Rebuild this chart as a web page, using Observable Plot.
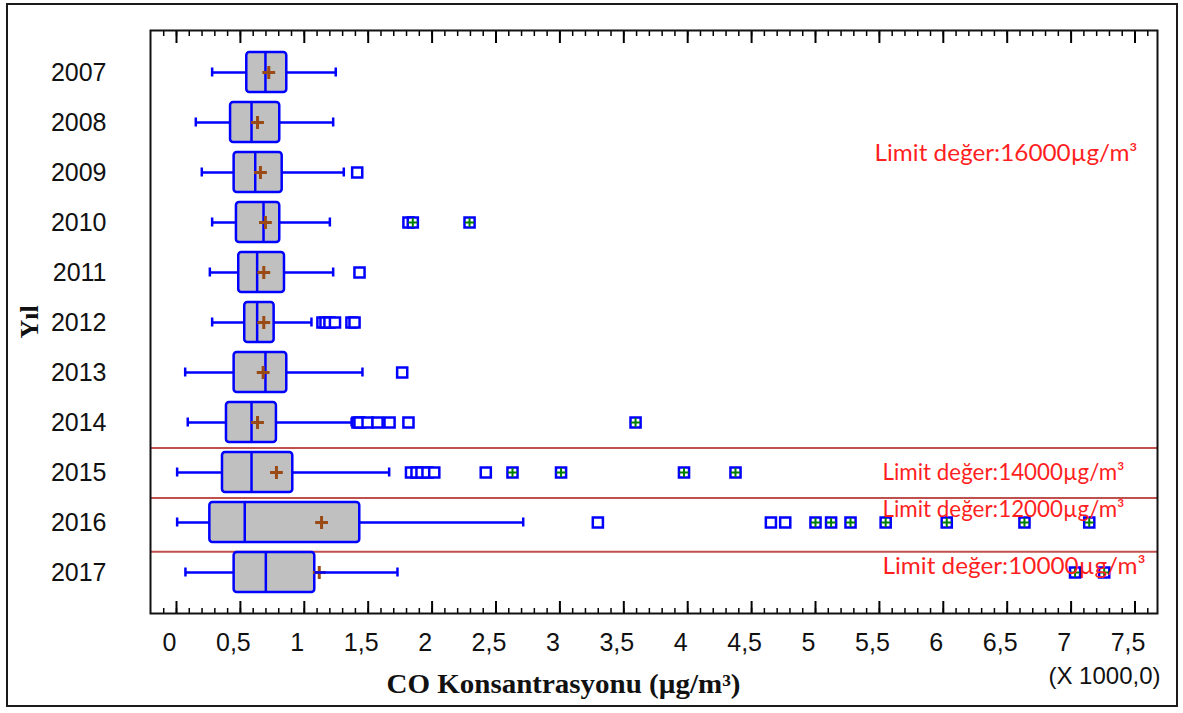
<!DOCTYPE html>
<html>
<head>
<meta charset="utf-8">
<script src="https://cdn.jsdelivr.net/npm/d3@7"></script>
<script src="https://cdn.jsdelivr.net/npm/@observablehq/plot@0.6"></script>
<style>
html, body { margin: 0; padding: 0; background: #fff; }
#wrap { position: relative; width: 1183px; height: 713px; overflow: hidden; background: #fff; }
#border { position: absolute; left: 6px; top: 3px; width: 1168px; height: 700px; border: 2px solid #1a1a1a; pointer-events: none; }
</style>
</head>
<body>
<div id="wrap"><div id="chart"></div><div id="border"></div></div>
<script>
// ---- data (values in thousands of µg/m³) ----
const years = ["2007","2008","2009","2010","2011","2012","2013","2014","2015","2016","2017"];
const whiskerLow  = [0.279, 0.151, 0.198, 0.279, 0.261, 0.279, 0.068, 0.088, 0.005, 0.005, 0.070];
const q1          = [0.550, 0.423, 0.451, 0.469, 0.487, 0.534, 0.451, 0.391, 0.360, 0.261, 0.451];
const median      = [0.696, 0.587, 0.616, 0.681, 0.631, 0.631, 0.696, 0.587, 0.587, 0.534, 0.699];
const mean        = [0.722, 0.634, 0.657, 0.696, 0.683, 0.683, 0.678, 0.634, 0.782, 1.135, 1.117];
const q3          = [0.863, 0.808, 0.827, 0.808, 0.845, 0.764, 0.863, 0.782, 0.910, 1.434, 1.082];
const whiskerHigh = [1.246, 1.226, 1.309, 1.200, 1.226, 1.056, 1.455, 1.370, 1.664, 2.713, 1.729];

// outside points
const outlierYear  = ["2009","2010","2011","2012","2012","2012","2012","2012","2012","2013",
                      "2014","2014","2014","2014","2014","2014",
                      "2015","2015","2015","2015","2015","2015",
                      "2016","2016","2016"];
const outlierValue = [1.414, 1.815, 1.432, 1.142, 1.166, 1.197, 1.240, 1.369, 1.393, 1.766,
                      1.416, 1.432, 1.495, 1.573, 1.667, 1.815,
                      1.835, 1.878, 1.917, 1.964, 2.017, 2.420,
                      3.297, 4.651, 4.763];
// far outside points
const farYear  = ["2010","2010","2014","2015","2015","2015","2015",
                  "2016","2016","2016","2016","2016","2016","2016","2017","2017"];
const farValue = [1.849, 2.293, 3.592, 2.629, 3.009, 3.971, 4.374,
                  5.000, 5.122, 5.274, 5.549, 6.027, 6.635, 7.142, 7.031, 7.259];

const xTicks      = [0, 0.5, 1, 1.5, 2, 2.5, 3, 3.5, 4, 4.5, 5, 5.5, 6, 6.5, 7, 7.5];
const xTickLabels = ["0","0,5","1","1,5","2","2,5","3","3,5","4","4,5","5","5,5","6","6,5","7","7,5"];
const minorTicks  = d3.range(-1, 77).map(i => i / 10);

const limitYears  = ["2009", "2015", "2016", "2017"];
const limitValues = [16000, 14000, 12000, 10000];
const limitLineYears = ["2015", "2016", "2017"];

const xTitle = "CO Konsantrasyonu (µg/m³)";
const yTitle = "Yıl";
const xMultiplier = "(X 1000,0)";

// ---- tables built from the arrays ----
const boxes = years.map((y, i) => ({
  year: y, lo: whiskerLow[i], q1: q1[i], med: median[i], mean: mean[i], q3: q3[i], hi: whiskerHigh[i]
}));
const outs = outlierYear.map((y, i) => ({year: y, value: outlierValue[i]}));
const fars = farYear.map((y, i) => ({year: y, value: farValue[i]}));
const limits = limitYears.map((y, i) => ({year: y, text: `Limit değer:${limitValues[i]}µg/m³`}));

const BLUE = "#0000ff";
const limitStyle = [
  {dx: 724, dy: -12, fontSize: 22.5, len: 263},
  {dx: 732, dy: 7.5, fontSize: 22.5, len: 242},
  {dx: 732, dy: -5.5, fontSize: 22.5, len: 242},
  {dx: 732, dy: 1.8, fontSize: 24, len: 263}
];

const chart = Plot.plot({
  width: 1183,
  height: 713,
  marginLeft: 150,
  marginRight: 26,
  marginTop: 30,
  marginBottom: 100,
  style: {fontFamily: "Liberation Sans, Arial, sans-serif", background: "transparent", overflow: "visible"},
  x: {domain: [-0.2034, 7.676]},
  y: {type: "band", domain: years, paddingInner: 0.2, paddingOuter: 0.43},
  marks: [
    // limit separator lines
    Plot.ruleY(limitLineYears.slice(0, 2), {y: d => d, dy: -24.5, stroke: "#c0504d", strokeWidth: 2}),
    Plot.ruleY(limitLineYears.slice(2), {y: d => d, dy: -20.8, stroke: "#c0504d", strokeWidth: 2}),
    // boxes
    Plot.barX(boxes, {y: "year", x1: "q1", x2: "q3", fill: "#c0c0c0", stroke: BLUE, strokeWidth: 2.5, rx: 3}),
    Plot.tickX(boxes, {y: "year", x: "med", stroke: BLUE, strokeWidth: 2.5}),
    Plot.dot(boxes, {y: "year", x: "mean", symbol: "plus", r: 4.2, stroke: "#9a4a15", strokeWidth: 3}),
    // whiskers
    Plot.ruleY(boxes, {y: "year", x1: "lo", x2: "q1", stroke: BLUE, strokeWidth: 2.5}),
    Plot.ruleY(boxes, {y: "year", x1: "q3", x2: "hi", stroke: BLUE, strokeWidth: 2.5}),
    Plot.tickX(boxes, {y: "year", x: "lo", stroke: BLUE, strokeWidth: 2.5, insetTop: 15.5, insetBottom: 15.5}),
    Plot.tickX(boxes, {y: "year", x: "hi", stroke: BLUE, strokeWidth: 2.5, insetTop: 15.5, insetBottom: 15.5}),
    // outside points
    Plot.dot(outs, {y: "year", x: "value", symbol: "square", r: 5.7, fill: "white", stroke: BLUE, strokeWidth: 2.5}),
    Plot.dot(fars, {y: "year", x: "value", symbol: "square", r: 5.7, fill: "white", stroke: BLUE, strokeWidth: 2.5}),
    Plot.dot(fars, {y: "year", x: "value", symbol: "plus", r: 3, stroke: "#008000", strokeWidth: 2}),
    // limit texts
    ...limits.map((d, i) => Plot.text([d], {
      y: "year", text: "text", frameAnchor: "left", textAnchor: "start", lineAnchor: "bottom",
      dx: limitStyle[i].dx, dy: limitStyle[i].dy, fontSize: limitStyle[i].fontSize,
      fontFamily: "Lato, 'Open Sans', sans-serif", fill: "#ff1f1f"
    })),
    // axes: inward ticks on bottom and top
    Plot.axisX({anchor: "bottom", ticks: xTicks, tickSize: 12, dy: -12, text: null, label: null, strokeWidth: 2}),
    Plot.axisX({anchor: "bottom", ticks: minorTicks, tickSize: 5, dy: -5, text: null, label: null, strokeWidth: 1.5}),
    Plot.axisX({anchor: "top", ticks: xTicks, tickSize: 12, dy: 12, text: null, label: null, strokeWidth: 2}),
    Plot.axisX({anchor: "top", ticks: minorTicks, tickSize: 5, dy: 5, text: null, label: null, strokeWidth: 1.5}),
    Plot.axisX({anchor: "bottom", ticks: xTicks, tickSize: 0, tickPadding: 20, dx: -7,
      tickFormat: d => xTickLabels[xTicks.indexOf(d)], fontSize: 25, label: null, fill: "#111"}),
    Plot.axisY({tickSize: 0, tickPadding: 44, fontSize: 25, label: null, fill: "#111"}),
    Plot.frame({stroke: "#111", strokeWidth: 2}),
    // titles
    Plot.text([yTitle], {text: d => d, frameAnchor: "left", textAnchor: "middle", lineAnchor: "middle", rotate: -90, dx: -121,
      fontFamily: "Liberation Serif, 'Times New Roman', serif", fontWeight: "bold", fontSize: 26, fill: "#111"}),
    Plot.text([xTitle], {text: d => d, frameAnchor: "bottom", textAnchor: "middle", lineAnchor: "bottom", dx: -90.5, dy: 79,
      fontFamily: "Liberation Serif, 'Times New Roman', serif", fontWeight: "bold", fontSize: 27, fill: "#111"}),
    Plot.text([xMultiplier], {text: d => d, frameAnchor: "bottom-right", textAnchor: "end", lineAnchor: "bottom",
      dx: 3, dy: 70, fontSize: 24, fill: "#111"})
  ]
});

document.getElementById("chart").appendChild(chart);

// stretch texts to the widths seen in the original
const stretch = (t, len) => {
  t.setAttribute("textLength", len);
  t.setAttribute("lengthAdjust", "spacingAndGlyphs");
};
chart.querySelectorAll("text").forEach(t => {
  const s = t.textContent;
  const li = limits.findIndex(d => d.text === s);
  if (li >= 0) stretch(t, limitStyle[li].len);
  if (s === xTitle) stretch(t, 354);
});
</script>
</body>
</html>
